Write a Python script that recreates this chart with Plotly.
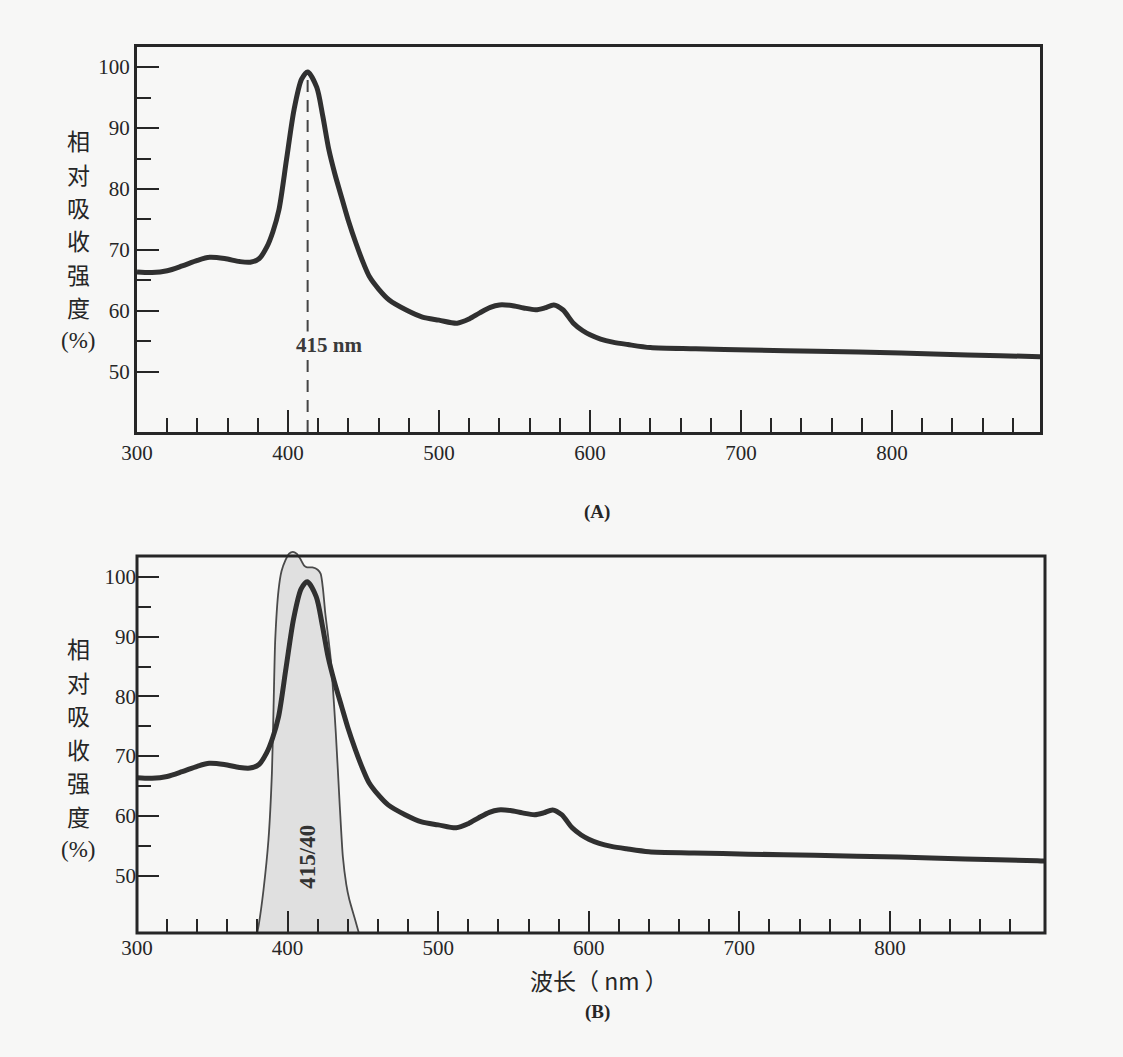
import plotly.graph_objects as go

# ---------------- data ----------------
wavelength = [300, 310, 320, 330, 340, 348, 358, 368, 375, 381, 386, 390, 394, 399, 404,
              409, 413, 419, 423, 427, 431, 436, 440, 445, 450, 454, 460, 467, 478, 489,
              500, 512, 520, 527, 534, 540, 548, 556, 564, 570, 576, 582, 589, 595, 600,
              607, 615, 625, 640, 670, 706, 750, 806, 850, 898, 905]
absorbance = [66.4, 66.3, 66.6, 67.4, 68.3, 68.8, 68.6, 68.1, 68.0, 68.6, 70.5, 73.0, 76.6, 84.8, 93.0,
              98.0, 99.2, 96.7, 92.0, 86.5, 82.5, 78.2, 74.8, 71.1, 67.8, 65.6, 63.6, 61.8, 60.2, 59.0,
              58.5, 58.0, 58.7, 59.7, 60.6, 61.0, 60.9, 60.5, 60.2, 60.5, 61.0, 60.2, 58.0, 56.8, 56.1,
              55.4, 54.9, 54.5, 54.0, 53.8, 53.6, 53.4, 53.1, 52.8, 52.5, 52.4]

filter_nm = [378, 381, 384, 387.3, 389.6, 390.7, 391.8, 394, 396, 398.6, 401, 403.5, 406, 408.5,
             411, 413, 416.5, 420, 422, 423.5, 425, 428.5, 432, 434.7, 436.7, 439, 441, 445, 450]
filter_val = [38, 42, 47.6, 56, 67.2, 78.3, 89.5, 97.8, 101, 102.8, 103.9, 104.2, 103.9, 103.0,
              101.9, 101.6, 101.6, 101.2, 100.5, 98, 94, 86.6, 74, 61.5, 53.2, 48.5, 46, 42.5, 38]

peak_nm = 413
peak_label = "415 nm"
filter_label = "415/40"

x_major = [300, 400, 500, 600, 700, 800]
x_minor = [v for v in range(320, 900, 20) if v % 100 != 0]
y_major = [50, 60, 70, 80, 90, 100]
y_minor = [55, 65, 75, 85, 95]

ytitle_chars = ["相", "对", "吸", "收", "强", "度", "(%)"]
xtitle = "波长（ nm ）"

# ---------------- layout geometry ----------------
W, H = 1123, 1057
BG = "#f7f7f6"
INK = "#262626"
SERIF = "Liberation Serif, Times New Roman, serif"
CJK = "Noto Sans CJK SC, sans-serif"

top_x_dom = [137 / W, 1040 / W]
top_y_dom = [1 - 432 / H, 1 - 47 / H]
top_x_rng = [300, 898]
top_y_rng = [40.16, 103.28]

bot_x_dom = [137 / W, 1045 / W]
bot_y_dom = [1 - 933 / H, 1 - 549.4 / H]
bot_x_rng = [300, 903]
bot_y_rng = [40.4, 104.6]
bot_frame_top = 103.5

fig = go.Figure()

# top spectrum
fig.add_trace(go.Scatter(x=wavelength, y=absorbance, mode="lines",
                         line=dict(color="#303030", width=5, shape="spline", smoothing=0.8),
                         xaxis="x", yaxis="y", showlegend=False, hoverinfo="skip"))
# filter band (bottom)
fig.add_trace(go.Scatter(x=filter_nm, y=filter_val, mode="lines", fill="toself",
                         fillcolor="#e0e0e0",
                         line=dict(color="#4a4a4a", width=1.8, shape="spline", smoothing=0.6),
                         xaxis="x2", yaxis="y2", showlegend=False, hoverinfo="skip"))
# bottom spectrum
fig.add_trace(go.Scatter(x=wavelength, y=absorbance, mode="lines",
                         line=dict(color="#303030", width=5, shape="spline", smoothing=0.8),
                         xaxis="x2", yaxis="y2", showlegend=False, hoverinfo="skip"))


def xaxis_cfg(dom, rng, anchor, showline):
    return dict(domain=dom, range=rng, anchor=anchor, tickmode="array", tickvals=x_major,
                ticks="inside", ticklen=22, tickwidth=2, tickcolor=INK,
                minor=dict(tickmode="array", tickvals=x_minor, ticks="inside", ticklen=14,
                           tickwidth=2, tickcolor=INK),
                showline=showline, linewidth=3, linecolor=INK, mirror=showline,
                showgrid=False, zeroline=False, automargin=False,
                tickfont=dict(family=SERIF, size=21, color=INK))


def yaxis_cfg(dom, rng, anchor, showline):
    return dict(domain=dom, range=rng, anchor=anchor, tickmode="array", tickvals=y_major,
                ticks="inside", ticklen=22, tickwidth=2, tickcolor=INK,
                minor=dict(tickmode="array", tickvals=y_minor, ticks="inside", ticklen=14,
                           tickwidth=2, tickcolor=INK),
                showline=showline, linewidth=3, linecolor=INK, mirror=showline,
                showgrid=False, zeroline=False, automargin=False,
                tickfont=dict(family=SERIF, size=21, color=INK))


def bot_paper_y(v):
    return bot_y_dom[0] + (v - bot_y_rng[0]) / (bot_y_rng[1] - bot_y_rng[0]) * (bot_y_dom[1] - bot_y_dom[0])


shapes = [
    # dashed line at peak in top panel
    dict(type="line", xref="x", yref="y", x0=peak_nm, x1=peak_nm,
         y0=top_y_rng[0], y1=absorbance[wavelength.index(peak_nm)],
         line=dict(color="#444444", width=2, dash="12px,8px"), layer="below"),
    # frame of bottom panel
    dict(type="rect", xref="paper", yref="paper",
         x0=bot_x_dom[0], x1=bot_x_dom[1], y0=bot_y_dom[0], y1=bot_paper_y(bot_frame_top),
         line=dict(color=INK, width=3), fillcolor="rgba(0,0,0,0)", layer="above"),
]

C = dict(xanchor="center", yanchor="middle", showarrow=False)

annotations = [
    dict(text="<b>" + peak_label + "</b>", xref="x", yref="y", x=427, y=54.5,
         font=dict(family=SERIF, size=21, color="#3a3a3a"), bgcolor=BG, borderpad=1, **C),
    dict(text="<b>" + filter_label + "</b>", xref="x2", yref="y2", x=413, y=53.2,
         textangle=-90, font=dict(family=SERIF, size=23, color="#333333"), **C),
    dict(text="<b>(A)</b>", xref="paper", yref="paper", x=597 / W, y=1 - 512 / H,
         font=dict(family=SERIF, size=19, color=INK), **C),
    dict(text="<b>(B)</b>", xref="paper", yref="paper", x=597 / W, y=1 - 1012 / H,
         font=dict(family=SERIF, size=19, color=INK), **C),
    dict(text=xtitle, xref="paper", yref="paper", x=599 / W, y=1 - 980 / H,
         font=dict(family=CJK, size=23, color=INK), **C),
]

for start in (140, 648):
    for i, ch in enumerate(ytitle_chars):
        annotations.append(dict(text=ch, xref="paper", yref="paper", x=78 / W,
                                y=1 - (start + i * 33.5) / H,
                                font=dict(family=SERIF if ch == "(%)" else CJK,
                                          size=23, color=INK), **C))

fig.update_layout(
    width=W, height=H, autosize=False,
    margin=dict(l=0, r=0, t=0, b=0, pad=0, autoexpand=False),
    paper_bgcolor=BG, plot_bgcolor=BG,
    xaxis=xaxis_cfg(top_x_dom, top_x_rng, "y", True),
    yaxis=yaxis_cfg(top_y_dom, top_y_rng, "x", True),
    xaxis2=xaxis_cfg(bot_x_dom, bot_x_rng, "y2", False),
    yaxis2=yaxis_cfg(bot_y_dom, bot_y_rng, "x2", False),
    shapes=shapes, annotations=annotations,
)

fig.write_html("out.html")
